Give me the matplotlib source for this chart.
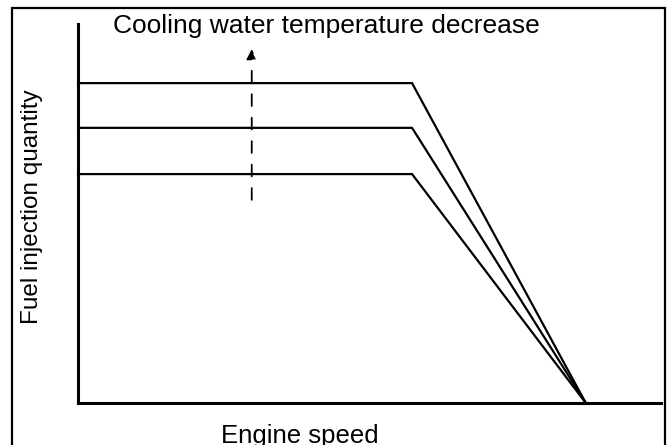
import matplotlib.pyplot as plt
from matplotlib.patches import Rectangle

plt.rcParams['font.family'] = ['Liberation Sans', 'DejaVu Sans']

# fuel injection curves: flat part up to the knee, then falling to zero at the cut-off speed
knee_speed = 57.3
cutoff_speed = 87.1
flat_levels = [84.4, 72.6, 60.4]

# dashed arrow showing the direction of falling coolant temperature
arrow_x = 29.8
arrow_from = 53.6
arrow_to = 93.4

fig = plt.figure(figsize=(6.7, 4.45), dpi=100)
ax = fig.add_axes([78 / 670, 1 - 403 / 445, 583 / 670, 379 / 445])

for level in flat_levels:
    ax.plot([0, knee_speed, cutoff_speed], [level, level, 0],
            color='black', lw=1.6, solid_joinstyle='miter', clip_on=False)

ax.annotate('', xy=(arrow_x, arrow_to), xytext=(arrow_x, arrow_from),
            arrowprops=dict(arrowstyle='-|>', color='black', lw=1.3,
                            linestyle=(0, (6.5, 6.5)), mutation_scale=15,
                            shrinkA=0, shrinkB=0))

ax.set_xlim(0, 100)
ax.set_ylim(0, 100)
ax.set_xticks([])
ax.set_yticks([])
for side in ['top', 'right']:
    ax.spines[side].set_visible(False)
for side in ['left', 'bottom']:
    ax.spines[side].set_linewidth(2.2)

fig.text(326 / 670, 1 - 33 / 445, 'Cooling water temperature decrease',
         ha='center', va='baseline', fontsize=19)
fig.text(38 / 670, 1 - 207 / 445, 'Fuel injection quantity',
         ha='center', va='baseline', rotation=90, rotation_mode='anchor',
         fontsize=17.5)
fig.text(300 / 670, 1 - 443 / 445, 'Engine speed',
         ha='center', va='baseline', fontsize=18.5)

# outer frame round the whole drawing
fig.patches.append(Rectangle((12 / 670, -0.05), 653 / 670, 1.05 - 8 / 445,
                             transform=fig.transFigure, fill=False,
                             edgecolor='black', lw=1.6))

fig.savefig('out.png', dpi=100)
